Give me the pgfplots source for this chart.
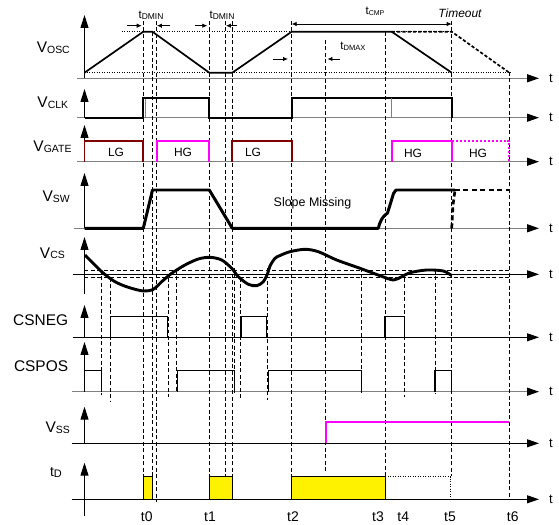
\documentclass[border=0pt]{standalone}
\usepackage{fontspec}
\setmainfont{Liberation Sans}
\usepackage{pgfplots}
\pgfplotsset{compat=1.18}
\usetikzlibrary{arrows.meta}
\newcommand{\fs}[1]{\fontsize{#1}{#1}\selectfont}
\newcommand{\lab}[2]{{\fs{15.5}#1}{\fs{10.5}\raisebox{-0.6pt}{#2}}}
\newcommand{\tsub}[2]{{\fs{11.5}t}{\fs{#2}\raisebox{-1pt}{#1}}}
\definecolor{lgred}{RGB}{128,0,0}
\definecolor{hgmag}{RGB}{255,0,255}
\tikzset{
 dsh/.style={black, line width=0.75pt, dash pattern=on 4pt off 2.5pt},
 dtt/.style={black, line width=0.8pt, dash pattern=on 1pt off 1.5pt},
 gax/.style={gray, line width=1.4pt, -{Triangle[length=12pt,width=8pt,color=black]}},
 bax/.style={black, line width=0.9pt, -{Triangle[length=12pt,width=8pt]}},
 vax/.style={black, line width=1pt, -{Triangle[length=13pt,width=8pt]}},
 lb/.style={inner sep=0pt},
 ar/.style={black, line width=0.8pt, -{Latex[length=5pt,width=4.5pt]}},
}
\begin{document}
\begin{tikzpicture}
\begin{axis}[scale only axis, width=559bp, height=525bp,
  xmin=0, xmax=559, ymin=0, ymax=525, y dir=reverse,
  hide axis, clip=false]
\addplot[draw=none] coordinates {(0,0)(559,525)};
% horizontal axes
\addplot[gax] coordinates {(77,78.3)(539,78.3)};
\addplot[gax] coordinates {(77,117.7)(539,117.7)};
\addplot[gax] coordinates {(77,161.7)(539,161.7)};
\addplot[gax] coordinates {(74,228.3)(539,228.3)};
\addplot[bax] coordinates {(72.7,274.3)(539,274.3)};
\addplot[bax] coordinates {(72.7,337.3)(539,337.3)};
\addplot[gax] coordinates {(71.7,391.7)(539,391.7)};
\addplot[bax] coordinates {(71.7,443.3)(539,443.3)};
\addplot[bax] coordinates {(71.7,499.3)(539,499.3)};
% vertical axes
\addplot[vax] coordinates {(84.5,78.3)(84.5,15)};
\addplot[vax] coordinates {(84.5,117.7)(84.5,89)};
\addplot[vax] coordinates {(84.5,161.7)(84.5,125)};
\addplot[vax] coordinates {(84.5,228.3)(84.5,173)};
\addplot[vax] coordinates {(84.5,294)(84.5,237)};
\addplot[vax] coordinates {(84.5,337.3)(84.5,305)};
\addplot[vax] coordinates {(84.5,391.7)(84.5,342)};
\addplot[vax] coordinates {(84.5,443.3)(84.5,406.7)};
\addplot[vax] coordinates {(84.5,516)(84.5,462.7)};
% main dashed time lines
\addplot[dsh] coordinates {(143.3,21)(143.3,477)};
\addplot[dsh] coordinates {(152.4,31.7)(152.4,477)};
\addplot[dsh] coordinates {(156.7,21)(156.7,502)};
\addplot[dsh] coordinates {(209.3,21)(209.3,477)};
\addplot[dsh] coordinates {(225.8,21)(225.8,477)};
\addplot[dsh] coordinates {(232.3,21)(232.3,477)};
\addplot[dsh] coordinates {(291.7,21)(291.7,477)};
\addplot[dsh] coordinates {(325.7,40)(325.7,472)};
\addplot[dsh] coordinates {(385.3,31.7)(385.3,477)};
\addplot[dsh] coordinates {(451.7,21)(451.7,476)};
\addplot[dsh] coordinates {(509.3,72)(509.3,500)};
% short dashed lines
\addplot[dsh] coordinates {(101.7,270)(101.7,395)};
\addplot[dsh] coordinates {(110.5,277.7)(110.5,402)};
\addplot[dsh] coordinates {(168.3,277.7)(168.3,397)};
\addplot[dsh] coordinates {(176.7,270)(176.7,393)};
\addplot[dsh] coordinates {(234.3,268)(234.3,393)};
\addplot[dsh] coordinates {(240.7,277.7)(240.7,399)};
\addplot[dsh] coordinates {(267.3,268)(267.3,400)};
\addplot[dsh] coordinates {(361.7,268)(361.7,393)};
\addplot[dsh] coordinates {(404.3,278)(404.3,397)};
\addplot[dsh] coordinates {(435,270)(435,394)};
% VCS threshold lines
\addplot[dsh] coordinates {(84.5,270.7)(510,270.7)};
\addplot[dsh] coordinates {(84.5,277.7)(510,277.7)};
% VOSC
\addplot[dtt] coordinates {(122,31.7)(452,31.7)};
\addplot[dtt] coordinates {(84.5,72.7)(512,72.7)};
\addplot[black, line width=1.7pt, line join=round] coordinates {(84.5,72.7)(143.3,31.7)(152.4,31.7)(209.3,72.7)(232.3,72.7)(291.7,31.7)(391.7,31.7)(451.7,72.7)};
\addplot[black, line width=1.7pt, dash pattern=on 3.3pt off 2pt] coordinates {(391.7,31.7)(451.7,31.7)(509.3,72.7)};
% annotations
\addplot[ar] coordinates {(126.7,25.7)(141.7,25.7)};
\addplot[ar] coordinates {(170,25.7)(156.9,25.7)};
\addplot[ar] coordinates {(195,25.7)(207.3,25.7)};
\addplot[ar] coordinates {(236.7,25.7)(226,25.7)};
\addplot[black, line width=0.8pt, {Latex[length=5pt,width=4.5pt]}-{Latex[length=5pt,width=4.5pt]}] coordinates {(291.7,24)(451.7,24)};
\addplot[ar] coordinates {(273,59)(288,59)};
\addplot[ar] coordinates {(340,59)(327.5,59)};
\node[lb,anchor=base] at (151,18.3) {\tsub{DMIN}{8.5}};
\node[lb,anchor=base] at (222,18.3) {\tsub{DMIN}{8.5}};
\node[lb,anchor=base] at (375,15) {\tsub{CMP}{7}};
\node[lb,anchor=base] at (460,17.3) {\fs{12}\itshape Timeout};
\node[lb,anchor=base] at (353,50) {\tsub{DMAX}{7.6}};
% VCLK
\addplot[black, line width=1.7pt] coordinates {(84.5,117.7)(143.3,117.7)(143.3,98.3)(209.3,98.3)(209.3,117.7)(291.7,117.7)(291.7,98.3)(451.7,98.3)(451.7,117.7)};
\addplot[gray, line width=1.2pt] coordinates {(391.7,117.7)(391.7,98.3)};
\addplot[gray, line width=0.8pt] coordinates {(145,117.7)(145,99.5)};
% VGATE
\addplot[lgred, line width=1.7pt] coordinates {(84.5,161.7)(84.5,140.7)(143.3,140.7)(143.3,161.7)};
\addplot[hgmag, line width=1.7pt] coordinates {(156.7,161.7)(156.7,140.7)(209.3,140.7)(209.3,161.7)};
\addplot[lgred, line width=1.7pt] coordinates {(232.3,161.7)(232.3,140.7)(291.7,140.7)(291.7,161.7)};
\addplot[hgmag, line width=1.7pt] coordinates {(391.7,161.7)(391.7,140.7)(451.7,140.7)(451.7,161.7)};
\addplot[hgmag, line width=1.7pt, dash pattern=on 2pt off 2pt] coordinates {(451.7,140.7)(509.3,140.7)(509.3,161.7)};
\node[lb,anchor=base] at (116,156.7) {\fs{12}LG};
\node[lb,anchor=base] at (183,156.7) {\fs{12}HG};
\node[lb,anchor=base] at (253,156.7) {\fs{12}LG};
\node[lb,anchor=base] at (413,157.5) {\fs{12}HG};
\node[lb,anchor=base] at (478,157) {\fs{12}HG};
% VSW
\addplot[black, line width=3pt, line join=round] coordinates {(84.5,228.3)(143.3,228.3)(152.5,190)(209.3,190)(232.3,228.3)(378.3,228.3)(379.5,224)(381.5,219.5)(384,216)(387.5,213)(390,205)(393.5,193.5)(396,190)(455,190)};
\addplot[black, line width=3pt, dash pattern=on 5pt off 3.5pt] coordinates {(455,190)(509.3,190)};
\addplot[black, line width=2.7pt, dash pattern=on 5pt off 3pt] coordinates {(451.7,228.3)(453,205)(455,190)};
\node[lb,anchor=base] at (312.5,206.7) {\fs{12.5}Slope Missing};
% VCS
\addplot[black, line width=2.9pt, smooth] coordinates {(85,255)(101.7,271.7)(115,281.7)(128.3,287.3)(143.3,291)(153.3,289.3)(161.7,281.7)(171.7,273.3)(185,265)(198.3,259)(210,257.3)(221.7,260)(231.7,268.3)(238.3,276.7)(248.3,284.3)(256.7,285.7)(263.3,281.7)(267.7,273.3)(270,266)(275,258.3)(280,255.5)(290,251.7)(305,249.3)(318.3,251.7)(336.7,260)(360,268.3)(380,275.7)(393.3,280)(401.7,276.7)(410,272.7)(426.7,270)(443.3,271)(451.7,275.7)};
% CSNEG
\addplot[black, line width=1.5pt] coordinates {(110.5,337.3)(110.5,316.7)(167.7,316.7)(167.7,337.3)};
\addplot[black, line width=1.5pt] coordinates {(241,337.3)(241,316.7)(266.7,316.7)(266.7,337.3)};
\addplot[black, line width=1.5pt] coordinates {(385,337.3)(385,316.7)(404.3,316.7)(404.3,337.3)};
% CSPOS
\addplot[black, line width=1.5pt] coordinates {(84.5,391.7)(84.5,370.7)(101.7,370.7)(101.7,391.7)};
\addplot[black, line width=1.5pt] coordinates {(177.7,391.7)(177.7,370.7)(234.3,370.7)(234.3,391.7)};
\addplot[black, line width=1.5pt] coordinates {(268.3,391.7)(268.3,370.7)(361.7,370.7)(361.7,391.7)};
\addplot[black, line width=1.5pt] coordinates {(435,391.7)(435,370.7)(451.7,370.7)(451.7,391.7)};
% VSS
\addplot[hgmag, line width=1.7pt] coordinates {(325.7,443.3)(325.7,422.3)(509.3,422.3)};
% tD
\addplot[fill=yellow, draw=black, line width=0.9pt] coordinates {(143.3,499.3)(143.3,476.7)(152.3,476.7)(152.3,499.3)} -- cycle;
\addplot[fill=yellow, draw=black, line width=0.9pt] coordinates {(209.3,499.3)(209.3,476.7)(232.3,476.7)(232.3,499.3)} -- cycle;
\addplot[fill=yellow, draw=black, line width=0.9pt] coordinates {(291,499.3)(291,476.7)(385.3,476.7)(385.3,499.3)} -- cycle;
\addplot[dtt, line width=0.7pt] coordinates {(385.3,476.7)(450.5,476.7)(450.5,499.3)};
% left labels
\node[lb,anchor=base east] at (70,52.7) {\lab{V}{OSC}};
\node[lb,anchor=base east] at (68.3,107.7) {\lab{V}{CLK}};
\node[lb,anchor=base east] at (71.7,151.7) {\lab{V}{GATE}};
\node[lb,anchor=base east] at (70,201.7) {\lab{V}{SW}};
\node[lb,anchor=base east] at (65,258.3) {\lab{V}{CS}};
\node[lb,anchor=base east] at (68.3,325) {\fs{15.5}CSNEG};
\node[lb,anchor=base east] at (68.3,371.7) {\fs{15.5}CSPOS};
\node[lb,anchor=base east] at (70,432.7) {\lab{V}{SS}};
\node[lb,anchor=base east] at (62,476) {{\fs{14}t}{\fs{11}\raisebox{-1pt}{D}}};
% right t labels
\node[lb] at (551,78.3) {\fs{13}t};
\node[lb] at (551,117.7) {\fs{13}t};
\node[lb] at (551,161.7) {\fs{13}t};
\node[lb] at (551,228.3) {\fs{13}t};
\node[lb] at (551,274.3) {\fs{13}t};
\node[lb] at (551,337.3) {\fs{13}t};
\node[lb] at (551,391.7) {\fs{13}t};
\node[lb] at (551,443.3) {\fs{13}t};
\node[lb] at (551,499.3) {\fs{13}t};
% bottom time labels
\node[lb,anchor=base] at (146.7,521.7) {\fs{14}t0};
\node[lb,anchor=base] at (210,521.7) {\fs{14}t1};
\node[lb,anchor=base] at (293,521.7) {\fs{14}t2};
\node[lb,anchor=base] at (378,521.7) {\fs{14}t3};
\node[lb,anchor=base] at (403.3,521.7) {\fs{14}t4};
\node[lb,anchor=base] at (450,521.7) {\fs{14}t5};
\node[lb,anchor=base] at (512.7,521.7) {\fs{14}t6};
\end{axis}
\end{tikzpicture}
\end{document}
